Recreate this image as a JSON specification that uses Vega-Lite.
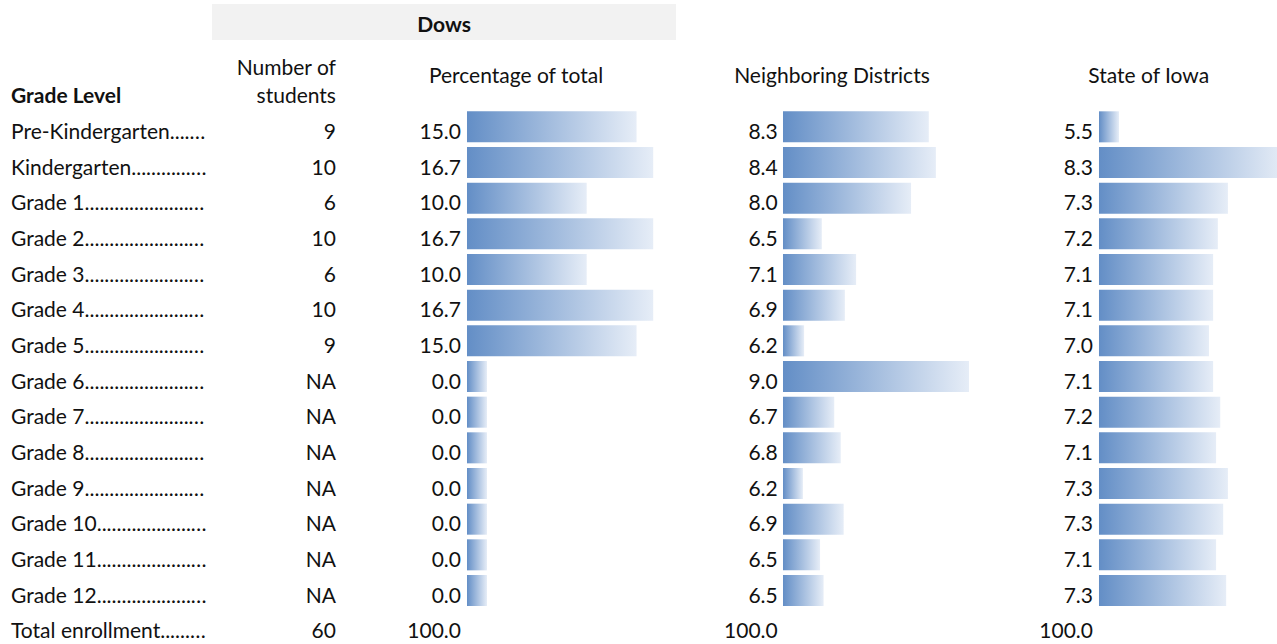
{
  "$schema": "https://vega.github.io/schema/vega-lite/v6.json",
  "width": 1277,
  "height": 644,
  "autosize": {"type": "fit", "contains": "padding"},
  "padding": {"left": 0, "right": 0, "top": 2, "bottom": 0},
  "background": "white",
  "config": {
    "view": {"stroke": null},
    "text": {"font": "Lato", "fontSize": 21, "color": "#111111", "baseline": "alphabetic", "dy": 12}
  },
  "datasets": {
    "table": [
      {"row": "Pre-Kindergarten", "label": "Pre-Kindergarten........................................", "students": "9", "pct": 15.0, "nb": 8.32, "st": 5.50},
      {"row": "Kindergarten", "label": "Kindergarten........................................", "students": "10", "pct": 16.67, "nb": 8.44, "st": 8.30},
      {"row": "Grade 1", "label": "Grade 1........................................", "students": "6", "pct": 10.0, "nb": 8.02, "st": 7.34},
      {"row": "Grade 2", "label": "Grade 2........................................", "students": "10", "pct": 16.67, "nb": 6.51, "st": 7.17},
      {"row": "Grade 3", "label": "Grade 3........................................", "students": "6", "pct": 10.0, "nb": 7.09, "st": 7.09},
      {"row": "Grade 4", "label": "Grade 4........................................", "students": "10", "pct": 16.67, "nb": 6.90, "st": 7.09},
      {"row": "Grade 5", "label": "Grade 5........................................", "students": "9", "pct": 15.0, "nb": 6.21, "st": 7.02},
      {"row": "Grade 6", "label": "Grade 6........................................", "students": "NA", "pct": 0.0, "nb": 9.00, "st": 7.09},
      {"row": "Grade 7", "label": "Grade 7........................................", "students": "NA", "pct": 0.0, "nb": 6.72, "st": 7.21},
      {"row": "Grade 8", "label": "Grade 8........................................", "students": "NA", "pct": 0.0, "nb": 6.83, "st": 7.14},
      {"row": "Grade 9", "label": "Grade 9........................................", "students": "NA", "pct": 0.0, "nb": 6.19, "st": 7.34},
      {"row": "Grade 10", "label": "Grade 10........................................", "students": "NA", "pct": 0.0, "nb": 6.88, "st": 7.26},
      {"row": "Grade 11", "label": "Grade 11........................................", "students": "NA", "pct": 0.0, "nb": 6.48, "st": 7.14},
      {"row": "Grade 12", "label": "Grade 12........................................", "students": "NA", "pct": 0.0, "nb": 6.54, "st": 7.31},
      {"row": "Total enrollment", "label": "Total enrollment........................................", "students": "60", "pct": 100.0, "nb": 100.0, "st": 100.0}
    ]
  },
  "encoding": {
    "y": {
      "field": "row",
      "type": "nominal",
      "scale": {
        "domain": ["h0", "h1", "h2", "Pre-Kindergarten", "Kindergarten", "Grade 1", "Grade 2", "Grade 3", "Grade 4", "Grade 5", "Grade 6", "Grade 7", "Grade 8", "Grade 9", "Grade 10", "Grade 11", "Grade 12", "Total enrollment"],
        "paddingInner": 0.13,
        "paddingOuter": 0.065
      },
      "axis": null
    }
  },
  "resolve": {"scale": {"x": "independent"}},
  "layer": [
    {
      "data": {"values": [{"row": "h0"}]},
      "mark": {"type": "bar", "color": "#F2F2F2", "height": 36, "yOffset": 2.2},
      "encoding": {
        "x": {"datum": -27.58, "type": "quantitative", "scale": {"domain": [-48.846, 79.238], "nice": false, "zero": false}, "axis": null},
        "x2": {"datum": 18.96}
      }
    },
    {
      "data": {"name": "table"},
      "transform": [{"filter": "datum.row !== 'Total enrollment'"}],
      "mark": {"type": "bar", "color": {"gradient": "linear", "x1": 0, "x2": 1, "y1": 0, "y2": 0, "stops": [{"offset": 0, "color": "#638EC6"}, {"offset": 1, "color": "#E6EDF7"}]}},
      "encoding": {
        "x": {"field": "pct", "type": "quantitative", "scale": {"domain": [-48.846, 79.238], "nice": false, "zero": false}, "axis": null},
        "x2": {"datum": -2.006}
      }
    },
    {
      "data": {"name": "table"},
      "transform": [{"filter": "datum.row !== 'Total enrollment'"}],
      "mark": {"type": "bar", "color": {"gradient": "linear", "x1": 0, "x2": 1, "y1": 0, "y2": 0, "stops": [{"offset": 0, "color": "#638EC6"}, {"offset": 1, "color": "#E6EDF7"}]}},
      "encoding": {
        "x": {"field": "nb", "type": "quantitative", "scale": {"domain": [-7.396, 14.212], "nice": false, "zero": false}, "axis": null},
        "x2": {"datum": 5.853}
      }
    },
    {
      "data": {"name": "table"},
      "transform": [{"filter": "datum.row !== 'Total enrollment'"}],
      "mark": {"type": "bar", "clip": true, "color": {"gradient": "linear", "x1": 0, "x2": 1, "y1": 0, "y2": 0, "stops": [{"offset": 0, "color": "#638EC6"}, {"offset": 1, "color": "#E6EDF7"}]}},
      "encoding": {
        "x": {"field": "st", "type": "quantitative", "scale": {"domain": [-13.402, 8.169], "nice": false, "zero": false}, "axis": null},
        "x2": {"datum": 5.162}
      }
    },
    {
      "data": {"name": "table"},
      "mark": {"type": "text", "align": "left", "limit": 196, "ellipsis": ""},
      "encoding": {
        "x": {"datum": -47.74, "type": "quantitative", "scale": {"domain": [-48.846, 79.238], "nice": false, "zero": false}, "axis": null},
        "text": {"field": "label"}
      }
    },
    {
      "data": {"name": "table"},
      "mark": {"type": "text", "align": "right"},
      "encoding": {
        "x": {"datum": -15.15, "type": "quantitative", "scale": {"domain": [-48.846, 79.238], "nice": false, "zero": false}, "axis": null},
        "text": {"field": "students"}
      }
    },
    {
      "data": {"name": "table"},
      "mark": {"type": "text", "align": "right"},
      "encoding": {
        "x": {"datum": -2.61, "type": "quantitative", "scale": {"domain": [-48.846, 79.238], "nice": false, "zero": false}, "axis": null},
        "text": {"field": "pct", "type": "quantitative", "format": ".1f"}
      }
    },
    {
      "data": {"name": "table"},
      "mark": {"type": "text", "align": "right"},
      "encoding": {
        "x": {"datum": 29.16, "type": "quantitative", "scale": {"domain": [-48.846, 79.238], "nice": false, "zero": false}, "axis": null},
        "text": {"field": "nb", "type": "quantitative", "format": ".1f"}
      }
    },
    {
      "data": {"name": "table"},
      "mark": {"type": "text", "align": "right"},
      "encoding": {
        "x": {"datum": 60.78, "type": "quantitative", "scale": {"domain": [-48.846, 79.238], "nice": false, "zero": false}, "axis": null},
        "text": {"field": "st", "type": "quantitative", "format": ".1f"}
      }
    },
    {
      "data": {"values": [{"row": "h2", "text": "Grade Level"}]},
      "mark": {"type": "text", "align": "left", "fontWeight": "bold"},
      "encoding": {
        "x": {"datum": -47.74, "type": "quantitative", "scale": {"domain": [-48.846, 79.238], "nice": false, "zero": false}, "axis": null},
        "text": {"field": "text"}
      }
    },
    {
      "data": {"values": [{"row": "h0", "text": "Dows"}]},
      "mark": {"type": "text", "align": "center", "fontWeight": "bold"},
      "encoding": {
        "x": {"datum": -4.31, "type": "quantitative", "scale": {"domain": [-48.846, 79.238], "nice": false, "zero": false}, "axis": null},
        "text": {"field": "text"}
      }
    },
    {
      "data": {"values": [{"row": "h2", "text": "students"}]},
      "mark": {"type": "text", "align": "right"},
      "encoding": {
        "x": {"datum": -15.15, "type": "quantitative", "scale": {"domain": [-48.846, 79.238], "nice": false, "zero": false}, "axis": null},
        "text": {"field": "text"}
      }
    },
    {
      "data": {"values": [{"row": "h2", "text": "Number of"}]},
      "mark": {"type": "text", "align": "right", "dy": -16.2},
      "encoding": {
        "x": {"datum": -15.15, "type": "quantitative", "scale": {"domain": [-48.846, 79.238], "nice": false, "zero": false}, "axis": null},
        "text": {"field": "text"}
      }
    },
    {
      "data": {"values": [{"row": "h2", "text": "Percentage of total"}]},
      "mark": {"type": "text", "align": "center", "dy": -8.5},
      "encoding": {
        "x": {"datum": 2.91, "type": "quantitative", "scale": {"domain": [-48.846, 79.238], "nice": false, "zero": false}, "axis": null},
        "text": {"field": "text"}
      }
    },
    {
      "data": {"values": [{"row": "h2", "text": "Neighboring Districts"}]},
      "mark": {"type": "text", "align": "center", "dy": -8.5},
      "encoding": {
        "x": {"datum": 34.60, "type": "quantitative", "scale": {"domain": [-48.846, 79.238], "nice": false, "zero": false}, "axis": null},
        "text": {"field": "text"}
      }
    },
    {
      "data": {"values": [{"row": "h2", "text": "State of Iowa"}]},
      "mark": {"type": "text", "align": "center", "dy": -8.5},
      "encoding": {
        "x": {"datum": 66.37, "type": "quantitative", "scale": {"domain": [-48.846, 79.238], "nice": false, "zero": false}, "axis": null},
        "text": {"field": "text"}
      }
    }
  ]
}
